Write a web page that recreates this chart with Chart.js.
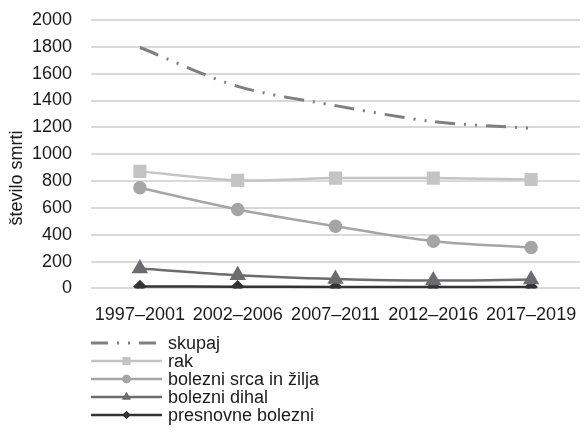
<!DOCTYPE html>
<html>
<head>
<meta charset="utf-8">
<script src="https://cdn.jsdelivr.net/npm/chart.js@4"></script>
<style>
html,body{margin:0;padding:0;background:#fff;overflow:hidden;}
#wrap{width:584px;height:448px;position:relative;overflow:hidden;}
</style>
</head>
<body>
<div id="wrap"><canvas id="c" width="590" height="448"></canvas></div>
<script>
const categories = ['1997–2001','2002–2006','2007–2011','2012–2016','2017–2019'];
const skupaj = [1795, 1505, 1362, 1243, 1193];
const rak = [872, 805, 822, 822, 812];
const srca = [750, 588, 463, 352, 305];
const dihal = [148, 98, 70, 58, 66];
const presnovne = [14, 13, 10, 10, 10];
const yTicks = [0,200,400,600,800,1000,1200,1400,1600,1800,2000];
const seriesNames = ['skupaj','rak','bolezni srca in žilja','bolezni dihal','presnovne bolezni'];
const yTitle = 'število smrti';

const FONT = '"Liberation Sans", Arial, sans-serif';
const TXT = '#1a1a1a';

const datasets = [
  {label: seriesNames[0], data: skupaj, borderColor:'#7f7f7f', backgroundColor:'#7f7f7f', borderWidth:3, borderDash:[20,9,2,9,2,9], pointRadius:0, tension:0.3},
  {label: seriesNames[1], data: rak, borderColor:'#c4c4c4', backgroundColor:'#c4c4c4', borderWidth:2.5, pointStyle:'rect', pointRadius:7.5, legendR:5.5, tension:0.3},
  {label: seriesNames[2], data: srca, borderColor:'#a5a5a8', backgroundColor:'#a5a5a8', borderWidth:2.5, pointStyle:'circle', pointRadius:5.5, legendR:4.2, tension:0.3},
  {label: seriesNames[3], data: dihal, borderColor:'#6b6b70', backgroundColor:'#6b6b70', borderWidth:2.5, pointStyle:'triangle', pointRadius:7, legendR:5, tension:0.3},
  {label: seriesNames[4], data: presnovne, borderColor:'#333333', backgroundColor:'#333333', borderWidth:2.5, pointStyle:'rectRot', pointRadius:5, legendR:4, tension:0.3}
];

const legendPlugin = {
  id:'customLegend',
  afterDraw(chart){
    const ctx = chart.ctx;
    // y-axis title
    ctx.save();
    ctx.translate(17, 178);
    ctx.rotate(-Math.PI/2);
    ctx.fillStyle = TXT;
    ctx.font = '18px ' + FONT;
    ctx.textAlign = 'center';
    ctx.textBaseline = 'middle';
    ctx.fillText(yTitle, 0, 0);
    ctx.restore();
    // legend
    const x0 = 91, x1 = 162, tx = 168, y0 = 343, dy = 18;
    chart.data.datasets.forEach((ds,i)=>{
      const y = y0 + i*dy;
      ctx.save();
      ctx.strokeStyle = ds.borderColor;
      ctx.lineWidth = ds.borderWidth;
      if (ds.borderDash) ctx.setLineDash([17,9,2,9,2,9]);
      ctx.beginPath(); ctx.moveTo(x0,y); ctx.lineTo(x1,y); ctx.stroke();
      ctx.setLineDash([]);
      if (ds.pointRadius>0){
        ctx.fillStyle = ds.backgroundColor;
        ctx.strokeStyle = ds.backgroundColor;
        Chart.helpers.drawPoint(ctx,{pointStyle:ds.pointStyle, radius:ds.legendR, rotation:0, borderWidth:0}, (x0+x1)/2, y);
        ctx.fill();
      }
      ctx.fillStyle = TXT;
      ctx.font = '18px ' + FONT;
      ctx.textBaseline = 'middle';
      ctx.textAlign = 'left';
      ctx.fillText(ds.label, tx, y+1);
      ctx.restore();
    });
  }
};

new Chart(document.getElementById('c'), {
  type:'line',
  data:{labels:categories, datasets},
  options:{
    responsive:false,
    animation:false,
    layout:{padding:{top:20,right:2,bottom:106,left:0}},
    plugins:{legend:{display:false}, tooltip:{enabled:false}},
    scales:{
      x:{
        offset:true,
        grid:{display:false, drawTicks:false},
        border:{display:false},
        ticks:{color:TXT, font:{family:FONT, size:18}, padding:16, maxRotation:0, autoSkip:false},
        afterFit(s){ s.paddingLeft = 0; s.paddingRight = 0; }
      },
      y:{
        min:0, max:2000,
        afterBuildTicks(axis){ axis.ticks = yTicks.map(v=>({value:v})); },
        afterFit(s){ s.width = 91; s.paddingTop = 0; s.paddingBottom = 0; },
        grid:{color:'#d9d9d9', lineWidth:2, drawTicks:false},
        border:{display:false},
        ticks:{color:TXT, font:{family:FONT, size:18}, padding:19, callback:(v)=>String(v)},
        title:{display:false}
      }
    }
  },
  plugins:[legendPlugin]
});
</script>
</body>
</html>
